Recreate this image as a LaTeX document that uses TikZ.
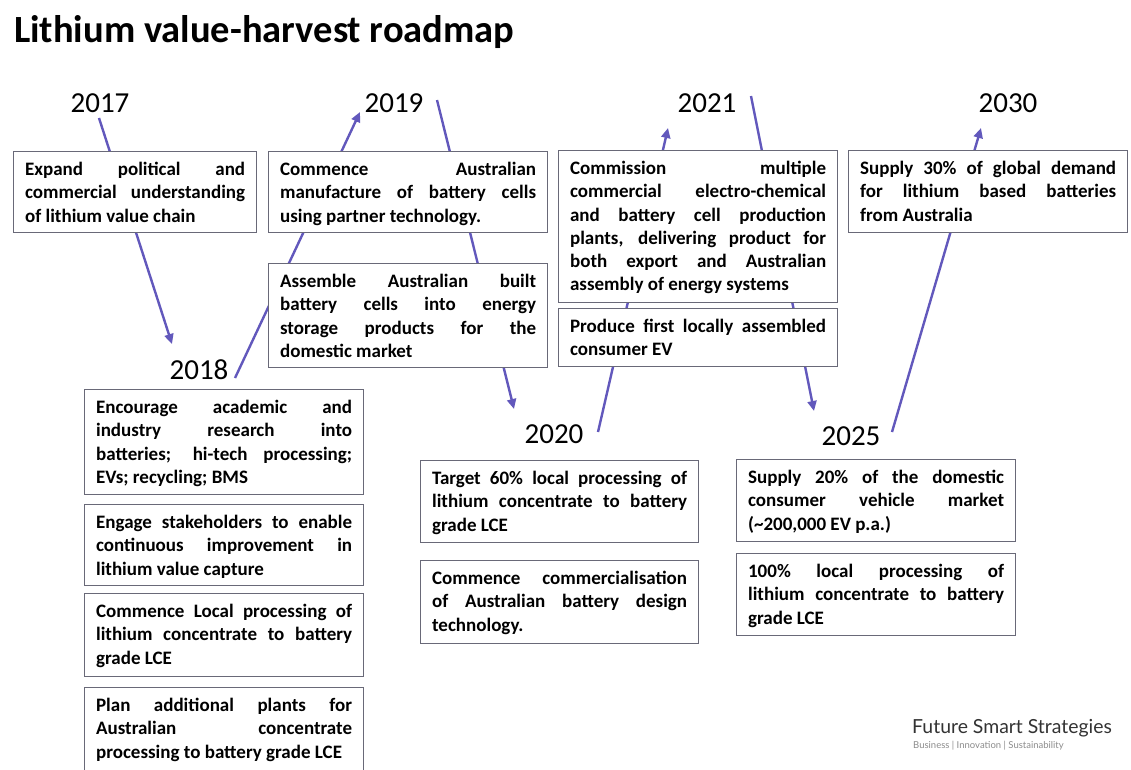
\documentclass[tikz,border=0pt]{standalone}
\usepackage{fontspec}
\setmainfont{Carlito}
\newfontfamily\logofont{Lato}
\usetikzlibrary{arrows.meta}
\hyphenpenalty=10000
\exhyphenpenalty=10000
\hfuzz=20pt
\definecolor{arrowc}{RGB}{98,88,188}
\definecolor{boxc}{RGB}{105,105,120}
\newcommand{\mybox}[6]{\node[box, anchor=north west] (#1) at (#2,#3) {\parbox[c][#5pt][t]{\dimexpr#4pt-23pt\relax}{\vspace*{7.5pt}\strut #6}};}
\begin{document}
\begin{tikzpicture}[x=1pt,y=-1pt,
  box/.style={draw=boxc, line width=1.2pt, fill=white, inner xsep=11.5pt, inner ysep=0pt,
    font=\fontsize{19}{23.3}\selectfont\bfseries},
  year/.style={font=\fontsize{29}{29}\selectfont, inner sep=0pt},
  conn/.style={draw=arrowc, line width=2.4pt, -{Triangle[length=10pt,width=9pt]}}]
\useasboundingbox[fill=white] (0,0) rectangle (1131,769);
% title
\node[anchor=base west, inner sep=0pt, font=\fontsize{38.5}{38.5}\selectfont\bfseries] (title) at (14,42) {Lithium value-harvest roadmap};
% years
\node[year] (y2017) at (100,103) {2017};
\node[year] (y2018) at (199,370) {2018};
\node[year] (y2019) at (394,103) {2019};
\node[year] (y2020) at (554,434) {2020};
\node[year] (y2021) at (707,103) {2021};
\node[year] (y2025) at (851,436) {2025};
\node[year] (y2030) at (1008,103) {2030};
% connector ends
\coordinate (a1s) at (99,118);  \coordinate (a1e) at (172,344);
\coordinate (a2s) at (235,378); \coordinate (a2e) at (360,112);
\coordinate (a3s) at (437,100); \coordinate (a3e) at (514,409);
\coordinate (a4s) at (598,432); \coordinate (a4e) at (668,128);
\coordinate (a5s) at (751,96);  \coordinate (a5e) at (814,411);
\coordinate (a6s) at (892,432); \coordinate (a6e) at (981,128);
\draw[conn] (a1s) -- (a1e);
\draw[conn] (a2s) -- (a2e);
\draw[conn] (a3s) -- (a3e);
\draw[conn] (a4s) -- (a4e);
\draw[conn] (a5s) -- (a5e);
\draw[conn] (a6s) -- (a6e);
% boxes
\mybox{b1}{13}{151}{243}{81}{Expand political and\linebreak commercial understanding\linebreak of lithium value chain}
\mybox{b2}{268}{151}{279}{81}{Commence Australian\linebreak manufacture of battery cells\linebreak using partner technology.}
\mybox{b3}{268}{263}{279}{104}{Assemble Australian built\linebreak battery cells into energy\linebreak storage products for the\linebreak domestic market}
\mybox{b4}{558}{150}{279}{152}{Commission multiple\linebreak commercial electro-chemical\linebreak and battery cell production\linebreak plants, delivering product for\linebreak both export and Australian\linebreak assembly of energy systems}
\mybox{b5}{558}{308}{279}{58}{Produce first locally assembled\linebreak consumer EV}
\mybox{b6}{848}{150}{279}{82}{Supply 30\% of global demand\linebreak for lithium based batteries\linebreak from Australia}
\mybox{b7}{84}{389}{279}{105}{Encourage academic and\linebreak industry research into\linebreak batteries; hi-tech processing;\linebreak EVs; recycling; BMS}
\mybox{b8}{84}{504}{279}{81}{Engage stakeholders to enable\linebreak continuous improvement in\linebreak lithium value capture}
\mybox{b9}{84}{593}{279}{83}{Commence Local processing of\linebreak lithium concentrate to battery\linebreak grade LCE}
\mybox{b10}{84}{687}{279}{85}{Plan additional plants for\linebreak Australian concentrate\linebreak processing~to~battery~grade~LCE}
\mybox{b11}{420}{460}{278}{82}{Target 60\% local processing of\linebreak lithium concentrate to battery\linebreak grade LCE}
\mybox{b12}{420}{560}{278}{83}{Commence commercialisation\linebreak of Australian battery design\linebreak technology.}
\mybox{b13}{736}{459}{279}{82}{Supply 20\% of the domestic\linebreak consumer vehicle market\linebreak (\textasciitilde200,000 EV p.a.)}
\mybox{b14}{736}{553}{279}{82}{100\% local processing of\linebreak lithium concentrate to battery\linebreak grade LCE}
% logo
\node[anchor=base west, inner sep=0pt, font=\logofont\fontsize{19.4}{19.4}\selectfont, text=black!80] (logo) at (912,733) {Future Smart Strategies};
\node[anchor=base west, inner sep=0pt, font=\logofont\fontsize{9.5}{9.5}\selectfont, text=black!45] (tag) at (913,748) {Business | Innovation | Sustainability};
\end{tikzpicture}
\end{document}
